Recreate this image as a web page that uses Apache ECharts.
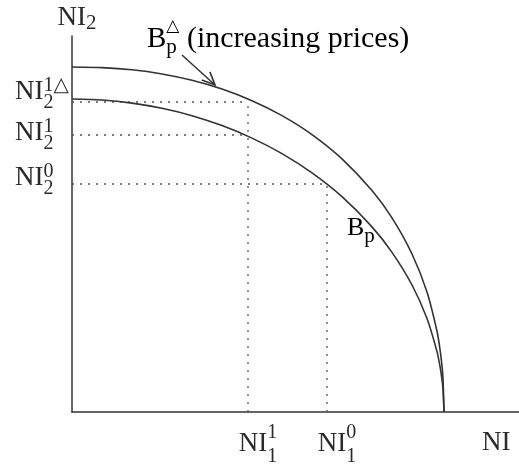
<!DOCTYPE html>
<html><head><meta charset="utf-8">
<script src="https://cdn.jsdelivr.net/npm/echarts@6/dist/echarts.min.js"></script>
<style>html,body{margin:0;padding:0;background:#fff}#c{width:519px;height:467px}</style>
</head><body><div id="c"></div>
<script>
// ---- data (axis units) ----
const outerX = [0, 30, 60, 90, 120, 150, 180, 210, 240, 270, 300, 320, 340, 355, 365, 368, 370, 371, 372];
const outerY = [345, 344.4, 342.2, 338, 331.7, 322.9, 311.3, 296.4, 277.4, 253.1, 221.4, 194.1, 158, 119.9, 80.7, 62.7, 45.8, 33.5, 0];
const innerX = [0, 30, 60, 90, 120, 150, 180, 210, 240, 270, 300, 320, 340, 355, 365, 368, 370, 371, 372];
const innerY = [313, 312, 308.9, 303.7, 296.3, 286.4, 273.9, 258.4, 239.1, 215.3, 185.1, 159.6, 127, 93.5, 60.4, 45.7, 32.4, 23, 0];

const yTickValues = [310, 277, 228];          // NI2^{1△}, NI2^1, NI2^0
const yTickSub = ['2', '2', '2'];
const yTickSup = ['1\u25B3', '1', '0'];
const yGuideReach = [176, 176, 255];          // x where each dotted line meets its curve

const xTickValues = [176, 255];               // NI1^1, NI1^0
const xTickSub = ['1', '1'];
const xTickSup = ['1', '0'];
const xGuideReach = [312, 228];

const xAxisMax = 447, yAxisMax = 376;

// ---- styling ----
const F = '"Liberation Serif", "DejaVu Serif", serif';
const TC = '#2a2a2a';
const LC = '#333333';

function tok(size, off, extra) {
  const s = {fontSize: size, fontFamily: F, color: TC, align: 'left', lineHeight: size + 2,
    padding: off > 0 ? [2 * off, 0, 0, 0] : [0, 0, -2 * off, 0]};
  return Object.assign(s, extra || {});
}

const yShift = [-10, -2, -6];
const yRich = {};
yTickValues.forEach((v, i) => {
  const d = yShift[i];
  yRich['n' + i] = tok(27, d);
  yRich['b' + i] = tok(20, d + 11, {width: 0});
  yRich['t' + i] = tok(20, d - 6);
});
const xRich = {};
xTickValues.forEach((v, i) => {
  xRich['n' + i] = tok(27, 0);
  xRich['b' + i] = tok(20, 13, {width: 0});
  xRich['t' + i] = tok(20, -11);
});

function idx(arr, v) { return arr.findIndex(a => Math.abs(a - v) < 0.5); }

const series = [];
yTickValues.forEach((v, i) => {
  series.push({type: 'line', data: [[0, v], [yGuideReach[i], v]], symbol: 'none', silent: true,
    lineStyle: {color: '#555', width: 1.3, type: [2, 6]}, z: 1});
});
xTickValues.forEach((v, i) => {
  series.push({type: 'line', data: [[v, 0], [v, xGuideReach[i]]], symbol: 'none', silent: true,
    lineStyle: {color: '#555', width: 1.3, type: [2, 6]}, z: 1});
});
series.push({type: 'line', data: outerX.map((x, i) => [x, outerY[i]]), symbol: 'none', smooth: 0.25,
  lineStyle: {color: LC, width: 1.6}, z: 3});
series.push({type: 'line', data: innerX.map((x, i) => [x, innerY[i]]), symbol: 'none', smooth: 0.25,
  lineStyle: {color: LC, width: 1.6}, z: 3});
// y tick labels (placed at the tick values on the y axis)
series.push({type: 'scatter', data: yTickValues.map(v => [0, v]), symbolSize: 0, silent: true, clip: false, z: 5,
  itemStyle: {opacity: 1},
  label: {show: true, position: [-57, 0], align: 'left', verticalAlign: 'middle', opacity: 1, color: TC,
    formatter: p => { const i = p.dataIndex; return `{n${i}|NI}{b${i}|${yTickSub[i]}}{t${i}|${yTickSup[i]}}`; },
    rich: yRich},
  labelLayout: {hideOverlap: false}});

const chart = echarts.init(document.getElementById('c'), null, {renderer: 'canvas'});
chart.setOption({
  animation: false,
  backgroundColor: '#fff',
  grid: {left: 72, right: 0, top: 36, bottom: 55, outerBoundsMode: 'none', containLabel: false},
  xAxis: {
    type: 'value', min: 0, max: xAxisMax,
    axisLine: {show: true, lineStyle: {color: LC, width: 1.5}},
    axisTick: {show: false}, splitLine: {show: false},
    axisLabel: {
      customValues: xTickValues, margin: 32, verticalAlign: 'middle', align: 'center',
      padding: [0, 0, 0, 20], hideOverlap: false,
      formatter: v => { const i = idx(xTickValues, v); return i < 0 ? '' : `{n${i}|NI}{b${i}|${xTickSub[i]}}{t${i}|${xTickSup[i]}}`; },
      rich: xRich
    },
    name: '{n|NI}{b|1}', nameLocation: 'end', nameGap: -37, nameMoveOverlap: false,
    nameTextStyle: {align: 'left', verticalAlign: 'middle', padding: [61, 0, 0, 0],
      rich: {n: tok(27, 0), b: tok(20, 9, {padding: [18, 0, 0, 9]})}}
  },
  yAxis: {
    type: 'value', min: 0, max: yAxisMax,
    axisLine: {show: true, lineStyle: {color: LC, width: 1.5}},
    axisTick: {show: false}, splitLine: {show: false},
    axisLabel: {show: false},
    name: '{n|NI}{b|2}', nameLocation: 'end', nameGap: 18, nameMoveOverlap: false,
    nameTextStyle: {align: 'center', verticalAlign: 'middle', padding: [0, 0, 0, 10],
      rich: {n: tok(27, 0), b: tok(21, 5)}}
  },
  graphic: [
    {type: 'text', x: 147, y: 39, z: 10, style: {
      text: '{b|B}{s|p}{t|\u25B3}{r| (increasing prices)}', verticalAlign: 'middle', align: 'left',
      rich: {b: tok(29, 0), s: tok(21, 8, {width: 0}), t: tok(17, -12, {fontFamily: '"DejaVu Sans", sans-serif'}), r: tok(30, 0)}}},
    {type: 'polyline', z: 10, shape: {points: [[182, 55], [215, 85]]}, style: {stroke: LC, lineWidth: 1.5}},
    {type: 'polyline', z: 10, shape: {points: [[201.8, 80.1], [215, 85], [209.9, 71.9]]}, style: {stroke: LC, lineWidth: 1.6, fill: null}},
    {type: 'text', x: 347, y: 228, z: 10, style: {
      text: '{b|B}{s|p}', verticalAlign: 'middle', align: 'left',
      rich: {b: tok(26, 0), s: tok(21, 8)}}}
  ],
  series: series
});
</script>
</body></html>
